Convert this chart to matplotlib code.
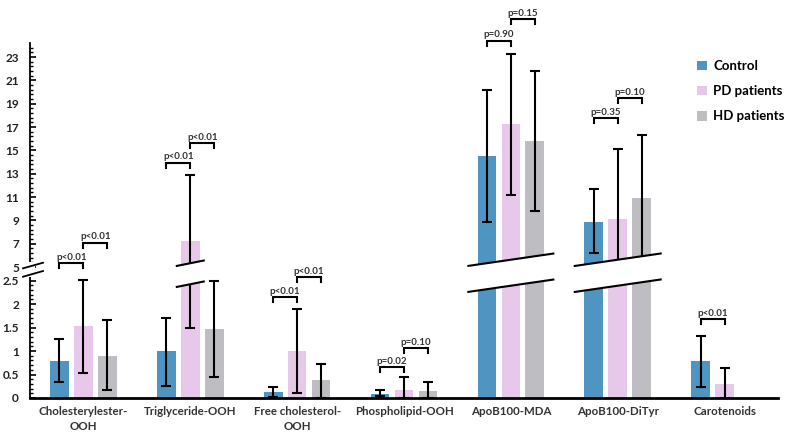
import numpy as np
import matplotlib
matplotlib.use("Agg")
import matplotlib.pyplot as plt
from matplotlib.patches import Polygon, Rectangle

categories = ["Cholesterylester-\nOOH", "Triglyceride-OOH", "Free cholesterol-\nOOH",
              "Phospholipid-OOH", "ApoB100-MDA", "ApoB100-DiTyr", "Carotenoids"]
series = ["Control", "PD patients", "HD patients"]

control_mean = [0.78, 1.00, 0.12, 0.09, 14.5, 8.85, 0.79]
control_low = [0.33, 0.26, 0.03, 0.04, 8.9, 6.2, 0.24]
control_high = [1.26, 1.71, 0.24, 0.16, 20.2, 11.65, 1.32]

pd_mean = [1.53, 7.25, 1.00, 0.18, 17.25, 9.15, 0.30]
pd_low = [0.54, 1.48, 0.11, 0.0, 11.2, 3.2, 0.0]
pd_high = [2.51, 12.9, 1.89, 0.44, 23.3, 15.15, 0.63]

hd_mean = [0.90, 1.47, 0.38, 0.15, 15.8, 10.95, np.nan]
hd_low = [0.17, 0.45, 0.01, 0.0, 9.8, 5.6, np.nan]
hd_high = [1.65, 2.49, 0.72, 0.34, 21.8, 16.35, np.nan]

# (group, series a, series b, bracket height, text)
p_values = [
    (0, 0, 1, 5.32, "p<0.01"), (0, 1, 2, 7.08, "p<0.01"),
    (1, 0, 1, 13.94, "p<0.01"), (1, 1, 2, 15.6, "p<0.01"),
    (2, 0, 1, 2.14, "p<0.01"), (2, 1, 2, 3.09, "p<0.01"),
    (3, 0, 1, 0.65, "p=0.02"), (3, 1, 2, 1.06, "p=0.10"),
    (4, 0, 1, 24.39, "p=0.90"), (4, 1, 2, 26.25, "p=0.15"),
    (5, 0, 1, 17.74, "p=0.35"), (5, 1, 2, 19.45, "p=0.10"),
    (6, 0, 1, 1.68, "p<0.01"),
]

colors = ["#4E95C2", "#E8C8EA", "#BEBEC2"]

plt.rcParams["font.family"] = ["Lato", "DejaVu Sans"]
plt.rcParams["font.weight"] = "bold"

# broken y scale: 0-2.5 (47 px/unit), short gap, 5-24 (11.67 px/unit)
knots_v = [-10, 0, 2.5, 5, 40]
knots_p = [-470, 0, 117.5, 131, 131 + 35 * 11.67]

def fwd(v):
    return np.interp(v, knots_v, knots_p)

def inv(p):
    return np.interp(p, knots_p, knots_v)

W, H = 789, 441
fig = plt.figure(figsize=(W / 100, H / 100), dpi=100)
ax = fig.add_axes([30 / W, (H - 398) / H, 748 / W, 355 / H])
ax.set_yscale("function", functions=(fwd, inv))
ax.set_xlim(-0.5, 6.5)
ax.set_ylim(0, 24.2)
px = 748 / 7  # pixels per x unit

x = np.arange(len(categories))
width = 0.175
offs = [-0.2245, 0, 0.2245]
means = [control_mean, pd_mean, hd_mean]
lows = [control_low, pd_low, hd_low]
highs = [control_high, pd_high, hd_high]

for i in range(3):
    m = np.array(means[i], dtype=float)
    lo = np.array(lows[i], dtype=float)
    hi = np.array(highs[i], dtype=float)
    ok = ~np.isnan(m)
    ax.bar(x[ok] + offs[i], m[ok], width, color=colors[i], label=series[i], zorder=2)
    ax.errorbar(x[ok] + offs[i], m[ok], yerr=[m[ok] - lo[ok], hi[ok] - m[ok]],
                fmt="none", ecolor="black", elinewidth=1.5, capsize=3.5,
                capthick=1.5, zorder=3)

# break bands across tall bars
bands = [(1 + offs[1], 14.5, 0.2, 124.3, 10.5),
         (4, 43.5, 0.145, 125.3, 13),
         (5, 44, 0.145, 125.3, 13)]
for xc, hw, s, pc, h in bands:
    xl, xr = xc - hw / px, xc + hw / px
    lo_l, lo_r = pc - h - s * hw, pc - h + s * hw
    up_l, up_r = pc + h - s * hw, pc + h + s * hw
    ax.add_patch(Polygon([(xl, inv(lo_l)), (xr, inv(lo_r)), (xr, inv(up_r)), (xl, inv(up_l))],
                         closed=True, facecolor="white", edgecolor="none", zorder=4))
    ax.plot([xl, xr], [inv(lo_l), inv(lo_r)], color="black", lw=1.5, zorder=5,
            solid_capstyle="butt")
    ax.plot([xl, xr], [inv(up_l), inv(up_r)], color="black", lw=1.5, zorder=5,
            solid_capstyle="butt")

# significance brackets
for g, a, b, yb, txt in p_values:
    xa, xb = g + offs[a], g + offs[b]
    pb = fwd(yb)
    ax.plot([xa, xa, xb, xb], [inv(pb - 5), yb, yb, inv(pb - 5)], color="black",
            lw=1.5, zorder=5, clip_on=False, solid_joinstyle="miter")
    ax.text((xa + xb) / 2, inv(pb + 1.5), txt, ha="center", va="bottom",
            fontsize=7, fontweight="bold", color="#333333", clip_on=False)

# axes styling
for sp in ["top", "right"]:
    ax.spines[sp].set_visible(False)
ax.spines["left"].set_linewidth(1.3)
ax.spines["bottom"].set_linewidth(2)

major = [0, 0.5, 1, 1.5, 2, 2.5] + list(range(5, 24, 2))
ax.set_yticks(major)
ax.set_yticklabels(["0", "0.5", "1", "1.5", "2", "2.5"] + [str(v) for v in range(5, 24, 2)])
minor = list(np.arange(0, 2.51, 0.1)) + list(np.arange(5, 24.2, 0.4))
ax.set_yticks(minor, minor=True)
ax.tick_params(axis="y", which="major", direction="in", length=4, width=1.2,
               labelsize=8.5, pad=8, labelcolor="#222222")
ax.tick_params(axis="y", which="minor", direction="in", length=2.5, width=1)
ax.set_xticks(x)
ax.set_xticklabels(categories, fontsize=8.3, fontweight="bold", color="#333333",
                   linespacing=1.4)
ax.tick_params(axis="x", length=0, pad=6)

# break marks on the y spine
x0 = -0.5
ax.add_patch(Rectangle((x0 - 3 / px, inv(121)), 8 / px, inv(136) - inv(121),
                       facecolor="white", edgecolor="none", zorder=6, clip_on=False,
                       transform=ax.transData))
for y1, y2 in [(268.3, 262.7), (276.7, 271.0)]:
    ax.plot([x0 - 7 / px, x0 + 13 / px], [inv(398 - y1), inv(398 - y2)],
            color="black", lw=1.3, zorder=7, clip_on=False)

ax.legend(loc="upper left", bbox_to_anchor=(697 / W, 1 - 60 / H),
          bbox_transform=fig.transFigure,
          frameon=False, fontsize=9.5, handlelength=0.75, handleheight=0.75,
          handletextpad=0.5, labelspacing=1.0, borderaxespad=0, borderpad=0)

fig.savefig("out.png", dpi=100)
